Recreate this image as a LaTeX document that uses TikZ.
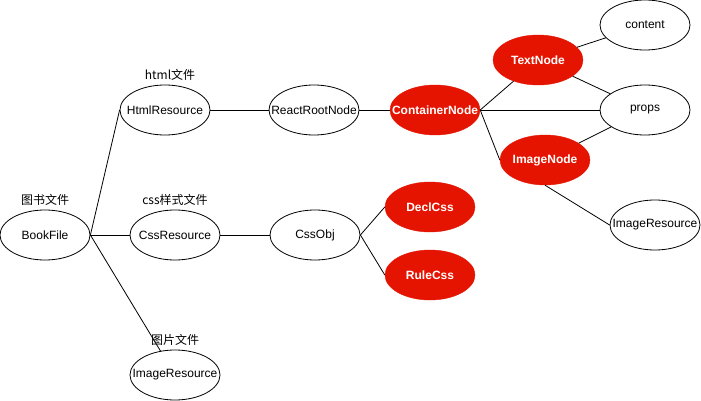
\documentclass[tikz,border=0pt]{standalone}
\usepackage{fontspec}
\setmainfont{Liberation Sans}
\newfontfamily\cjk{Noto Sans CJK SC}
\usetikzlibrary{shapes.geometric}
\definecolor{nodered}{HTML}{E51400}
\newcommand{\zw}[1]{\makebox[0pt]{#1}}
\begin{document}
\begin{tikzpicture}[x=1pt,y=-1pt,
  every node/.style={font=\fontsize{12}{14}\selectfont},
  plain/.style={ellipse,draw=black,line width=0.8pt,fill=white,minimum width=90pt,minimum height=50pt,inner sep=0pt},
  hot/.style={ellipse,draw=nodered,fill=nodered,text=white,font=\fontsize{12}{14}\selectfont\bfseries,minimum width=90pt,minimum height=50pt,inner sep=0pt},
  lbl/.style={font=\fontsize{12}{14}\selectfont\cjk,inner sep=0pt},
  conn/.style={draw=black,line width=0.8pt}]
\useasboundingbox (0,0) rectangle (701,401);
\node[plain] (book) at (45,235) {\zw{BookFile}};
\node[plain] (html) at (165,110) {\zw{HtmlResource}};
\node[plain] (css) at (175,235) {\zw{CssResource}};
\node[plain] (img) at (175,375) {\zw{ImageResource}};
\node[plain] (react) at (314,110) {\zw{ReactRootNode}};
\node[hot] (cont) at (435,110) {\zw{ContainerNode}};
\node[hot] (text) at (538,60) {\zw{TextNode}};
\node[hot] (imgn) at (545,160) {\zw{ImageNode}};
\node[plain] (content) at (645,25) {\zw{content}};
\node[plain] (props) at (645,110) {\zw{props}};
\node[plain] (imgres) at (655,225) {\zw{ImageResource}};
\node[plain] (cssobj) at (315,235) {\zw{CssObj}};
\node[hot] (decl) at (430,207) {\zw{DeclCss}};
\node[hot] (rule) at (430,275) {\zw{RuleCss}};
\node[lbl] (l1) at (45,200) {图书文件};
\node[lbl] (l2) at (170,75) {html文件};
\node[lbl] (l3) at (175,200) {css样式文件};
\node[lbl] (l4) at (175,340) {图片文件};
\path[conn] (book.east) -- (html.west);
\path[conn] (book.east) -- (css.west);
\path[conn] (book.east) -- (img);
\path[conn] (html.east) -- (react.west);
\path[conn] (react.east) -- (cont.west);
\path[conn] (cont.east) -- (text);
\path[conn] (cont.east) -- (props.west);
\path[conn] (cont.east) -- (imgn.west);
\path[conn] (text) -- (content);
\path[conn] (text) -- (props);
\path[conn] (imgn) -- (props);
\path[conn] (imgn.south) -- (imgres.west);
\path[conn] (css.east) -- (cssobj.west);
\path[conn] (cssobj.east) -- (decl.west);
\path[conn] (cssobj.east) -- (rule.west);
\end{tikzpicture}
\end{document}
